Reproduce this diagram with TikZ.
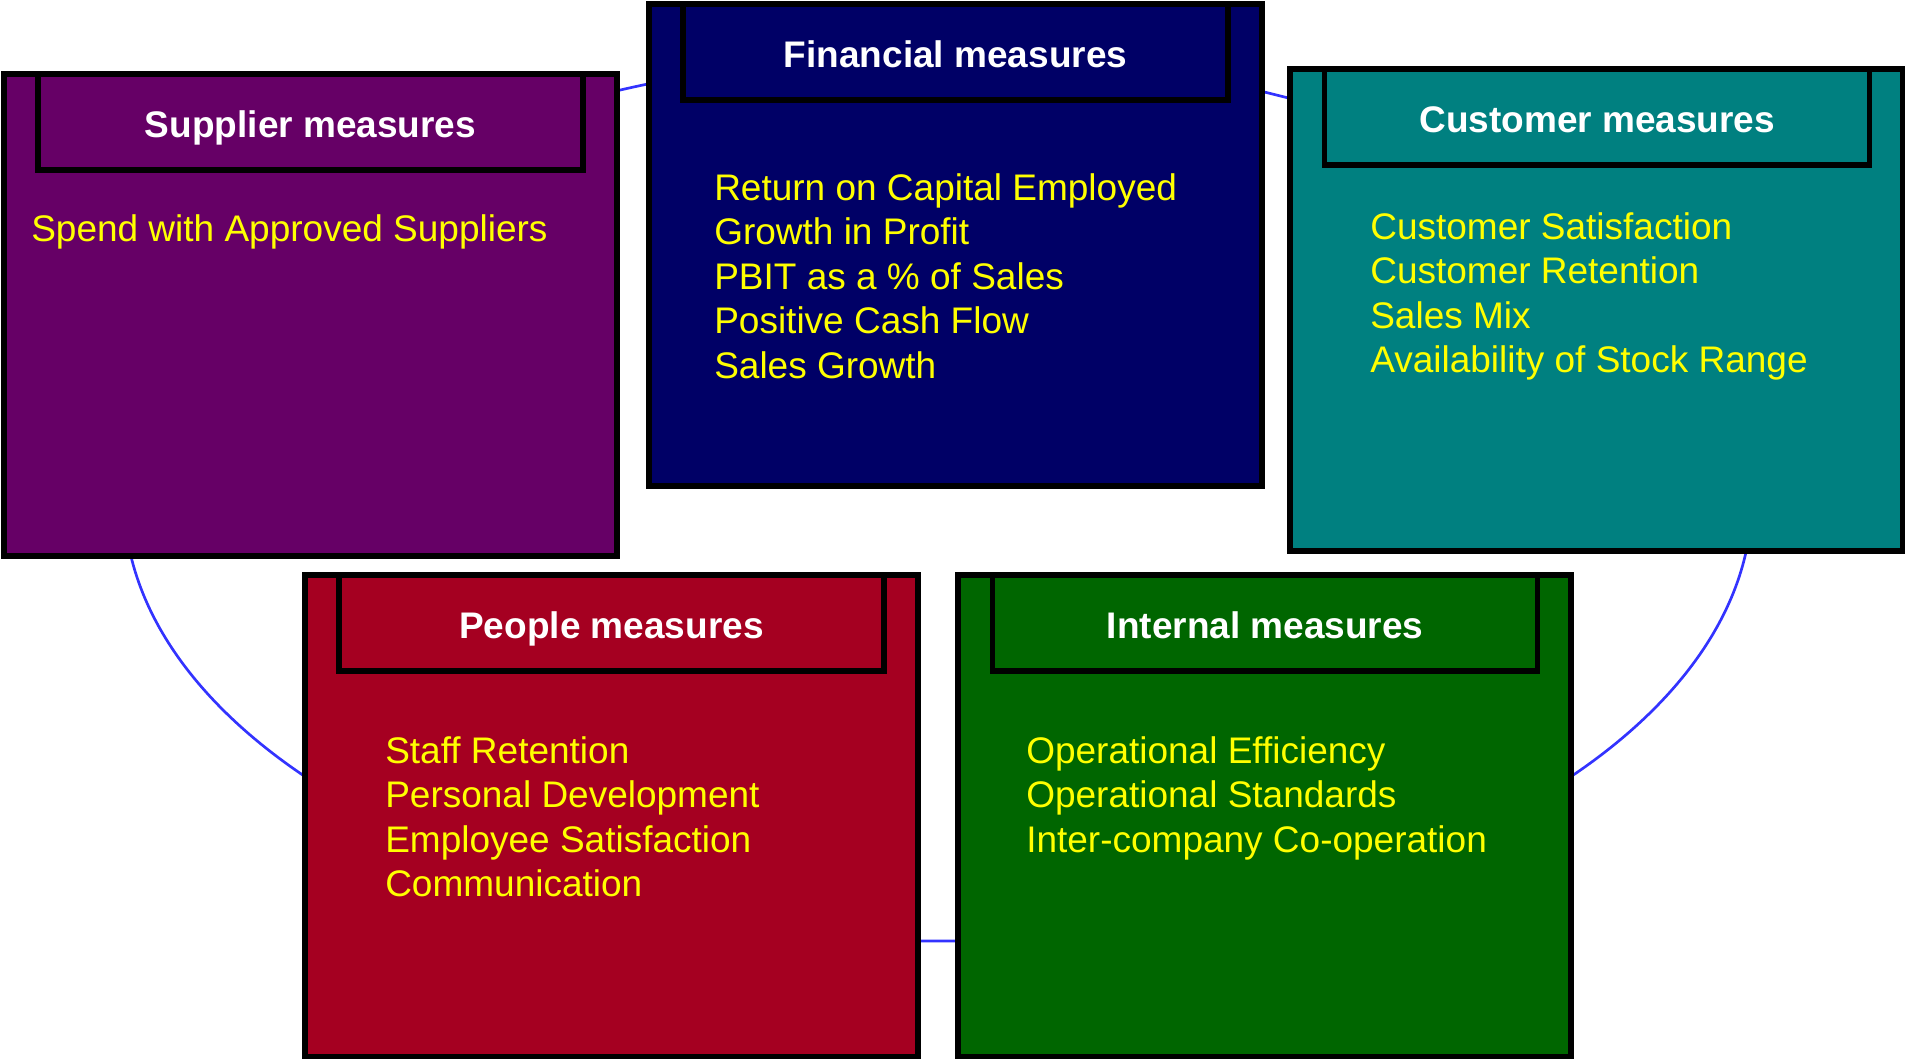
\documentclass[tikz,border=0pt]{standalone}
\usepackage{fontspec}
\setmainfont{Liberation Sans}
\usepackage{tikz}

\definecolor{supplierpurple}{HTML}{660066}
\definecolor{financialnavy}{HTML}{000066}
\definecolor{customerteal}{HTML}{008080}
\definecolor{peoplered}{HTML}{A50021}
\definecolor{internalgreen}{HTML}{006600}
\definecolor{ringblue}{HTML}{3333FF}
\definecolor{kpiyellow}{HTML}{FFFF00}

\newcommand{\slidefont}{\fontsize{27.75pt}{33.3pt}\selectfont}

\tikzset{
  panel/.style={draw=black, line width=4.5pt, outer sep=0pt, inner sep=0pt, anchor=north west,
    minimum width=459.75pt, minimum height=361.5pt},
  head/.style={draw=black, line width=4pt, outer sep=0pt, inner sep=0pt, anchor=north west,
    minimum width=408.75pt, minimum height=72pt, text height=23.7pt, text depth=0pt,
    text=white, font=\slidefont\bfseries},
  kpi/.style={anchor=base west, inner sep=0pt, text=kpiyellow, font=\slidefont},
  ring/.style={draw=ringblue, line width=2pt}
}

\begin{document}
\begin{tikzpicture}[x=0.75pt,y=0.75pt,yscale=-1,xscale=1]
\useasboundingbox (0,0) rectangle (1905,1058);

% Ring behind the panels
\draw [ring] (938,498) ellipse [x radius=814, y radius=443];

% Panels
\node [panel, fill=supplierpurple] (supplier) at (4,74) {};
\node [panel, fill=financialnavy] (financial) at (649,4) {};
\node [panel, fill=customerteal] (customer) at (1290,69) {};
\node [panel, fill=peoplered] (people) at (305,575) {};
\node [panel, fill=internalgreen] (internal) at (958,575) {};

% Headers
\node [head, fill=supplierpurple] (supplierhead) at ([xshift=25.5pt]supplier.north west) {Supplier measures};
\node [head, fill=financialnavy] (financialhead) at ([xshift=25.5pt]financial.north west) {Financial measures};
\node [head, fill=customerteal] (customerhead) at ([xshift=26pt]customer.north west) {Customer measures};
\node [head, fill=peoplered] (peoplehead) at ([xshift=25.5pt]people.north west) {People measures};
\node [head, fill=internalgreen] (internalhead) at ([xshift=26pt]internal.north west) {Internal measures};

% Measures
\node [kpi] (supplier1) at (31,241) {Spend with Approved Suppliers};
\foreach \kpitext [count=\i] in {Return on Capital Employed, Growth in Profit, PBIT as a \% of Sales, Positive Cash Flow, Sales Growth}
  \node [kpi] (financial\i) at (714,{200+44.6*(\i-1)}) {\kpitext};
\foreach \kpitext [count=\i] in {Customer Satisfaction, Customer Retention, Sales Mix, Availability of Stock Range}
  \node [kpi] (customer\i) at (1370,{239+44.6*(\i-1)}) {\kpitext};
\foreach \kpitext [count=\i] in {Staff Retention, Personal Development, Employee Satisfaction, Communication}
  \node [kpi] (people\i) at (385,{763+44.6*(\i-1)}) {\kpitext};
\foreach \kpitext [count=\i] in {Operational Efficiency, Operational Standards, Inter-company Co-operation}
  \node [kpi] (internal\i) at (1026,{763+44.6*(\i-1)}) {\kpitext};

\end{tikzpicture}
\end{document}
